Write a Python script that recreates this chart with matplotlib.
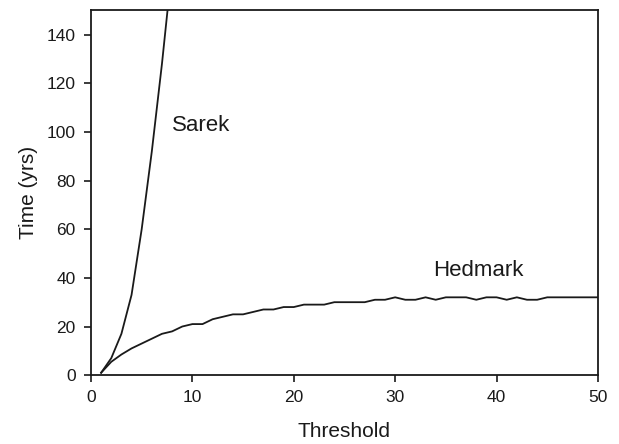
import matplotlib
matplotlib.use("Agg")
import matplotlib.pyplot as plt

plt.rcParams['font.family'] = ['Liberation Sans', 'DejaVu Sans']

sarek_x = [1, 2, 3, 4, 5, 6, 7, 8]
sarek_y = [1, 7, 17, 33, 60, 92, 128, 168]

hedmark_x = list(range(1, 51))
hedmark_y = [1, 5.5, 8.5, 11, 13, 15, 17, 18, 20, 21,
             21, 23, 24, 25, 25, 26, 27, 27, 28, 28,
             29, 29, 29, 30, 30, 30, 30, 31, 31, 32,
             31, 31, 32, 31, 32, 32, 32, 31, 32, 32,
             31, 32, 31, 31, 32, 32, 32, 32, 32, 32]

fig = plt.figure(figsize=(6.19, 4.44), dpi=100)
ax = fig.add_axes([0.147, 0.155, 0.819, 0.822])

col = '#1a1a1a'
ax.plot(sarek_x, sarek_y, color=col, lw=1.3)
ax.plot(hedmark_x, hedmark_y, color=col, lw=1.3)

ax.text(8.0, 102.5, 'Sarek', fontsize=16, color=col, va='center')
ax.text(33.7, 43, 'Hedmark', fontsize=16, color=col, va='center')

ax.set_xlim(0, 50)
ax.set_ylim(0, 150)
ax.set_xticks([0, 10, 20, 30, 40, 50])
ax.set_yticks([0, 20, 40, 60, 80, 100, 120, 140])
ax.tick_params(direction='out', length=5, width=1.2, labelsize=12.5, colors=col, pad=6)
for s in ax.spines.values():
    s.set_linewidth(1.3)
    s.set_color(col)

ax.set_xlabel('Threshold', fontsize=15, color=col, labelpad=12)
ax.set_ylabel('Time (yrs)', fontsize=15, color=col, labelpad=6)

fig.savefig('out.png', dpi=100)
